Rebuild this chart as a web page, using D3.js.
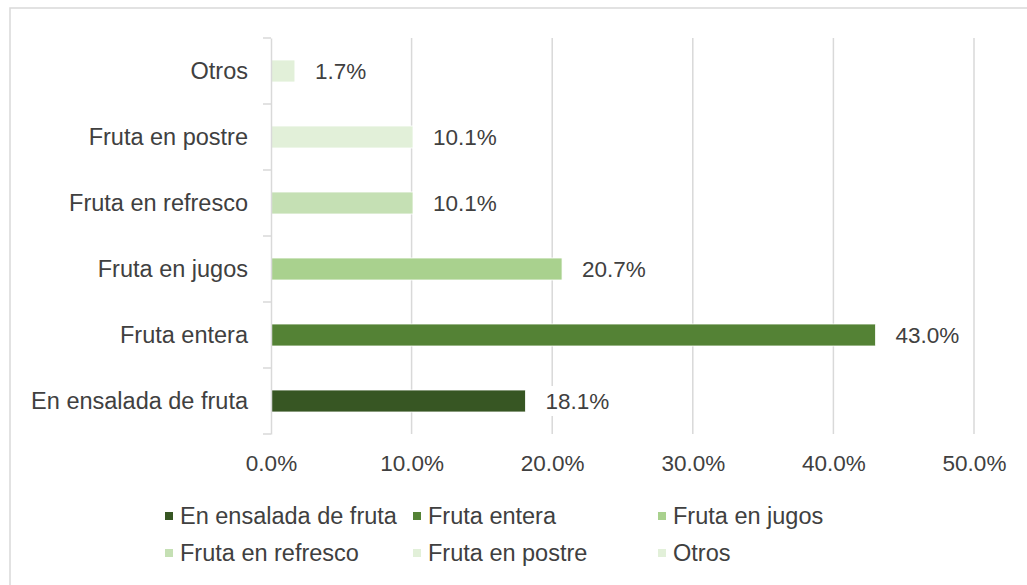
<!DOCTYPE html>
<html>
<head>
<meta charset="utf-8">
<script src="https://cdn.jsdelivr.net/npm/d3@7"></script>
<style>
  body { margin: 0; background: #fff; }
  svg { display: block; font-family: "Liberation Sans", Arial, sans-serif; }
</style>
</head>
<body>
<div id="chart"></div>
<script>
// data, top to bottom as drawn
var categories = ['Otros', 'Fruta en postre', 'Fruta en refresco', 'Fruta en jugos', 'Fruta entera', 'En ensalada de fruta'];
var values = [1.7, 10.1, 10.1, 20.7, 43.0, 18.1];
var colors = ['#e2f0d9', '#e2f0d9', '#c5e0b4', '#a9d18e', '#548235', '#375623'];
var tickValues = [0, 10, 20, 30, 40, 50];
var legendOrder = ['En ensalada de fruta', 'Fruta entera', 'Fruta en jugos', 'Fruta en refresco', 'Fruta en postre', 'Otros'];

var width = 1027, height = 585;
var margin = {left: 271, right: 53, top: 38, bottom: 151};
var fontSize = 22.5, catFontSize = 23.5;

var svg = d3.select('#chart').append('svg')
  .attr('width', width).attr('height', height);

// outer frame
svg.append('rect')
  .attr('x', 10).attr('y', 8)
  .attr('width', width + 20).attr('height', height + 20)
  .attr('fill', '#fff').attr('stroke', '#d9d9d9').attr('stroke-width', 1.5);

var x = d3.scaleLinear().domain([0, 50]).range([margin.left, width - margin.right]);
var y = d3.scaleBand().domain(categories)
  .range([margin.top, height - margin.bottom])
  .paddingInner(2 / 3).paddingOuter(1 / 3);

var step = y.step();
var plotBottom = height - margin.bottom;

// gridlines
svg.append('g').selectAll('line')
  .data(tickValues.slice(1))
  .enter().append('line')
  .attr('x1', function (d) { return x(d); })
  .attr('x2', function (d) { return x(d); })
  .attr('y1', margin.top).attr('y2', plotBottom)
  .attr('stroke', '#d9d9d9').attr('stroke-width', 1.5);

// value labels with white background (they break the gridlines)
var labels = svg.append('g').selectAll('g')
  .data(categories)
  .enter().append('g');

labels.append('rect')
  .attr('x', function (d, i) { return x(values[i]) + 8; })
  .attr('y', function (d) { return y(d) + y.bandwidth() / 2 - 15; })
  .attr('width', 82).attr('height', 30)
  .attr('fill', '#fff');

labels.append('text')
  .attr('x', function (d, i) { return x(values[i]) + 20; })
  .attr('y', function (d) { return y(d) + y.bandwidth() / 2; })
  .attr('dy', '0.35em')
  .attr('font-size', fontSize)
  .attr('fill', '#404040')
  .text(function (d, i) { return values[i].toFixed(1) + '%'; });

// bars
svg.append('g').selectAll('rect')
  .data(categories)
  .enter().append('rect')
  .attr('x', x(0))
  .attr('y', function (d) { return y(d); })
  .attr('width', function (d, i) { return x(values[i]) - x(0); })
  .attr('height', y.bandwidth())
  .attr('fill', function (d, i) { return colors[i]; })
  .attr('stroke', '#fff').attr('stroke-width', 0.8);

// category axis
var yAxis = d3.axisLeft(y).tickSize(0).tickPadding(23);
var gy = svg.append('g').attr('transform', 'translate(' + x(0) + ',0)').call(yAxis);
gy.select('.domain').attr('stroke', '#d9d9d9').attr('stroke-width', 1.5);
gy.selectAll('text').attr('font-size', catFontSize).attr('fill', '#404040')
  .attr('font-family', '"Liberation Sans", Arial, sans-serif');

// tick marks at band edges
var edges = d3.range(categories.length + 1).map(function (i) { return margin.top + i * step; });
svg.append('g').selectAll('line')
  .data(edges).enter().append('line')
  .attr('x1', x(0) - 8).attr('x2', x(0))
  .attr('y1', function (d) { return d; }).attr('y2', function (d) { return d; })
  .attr('stroke', '#d9d9d9').attr('stroke-width', 1.5);

// value axis (labels only)
var xAxis = d3.axisBottom(x).tickValues(tickValues).tickSize(0).tickPadding(21)
  .tickFormat(function (d) { return d.toFixed(1) + '%'; });
var gx = svg.append('g').attr('transform', 'translate(0,' + plotBottom + ')').call(xAxis);
gx.select('.domain').remove();
gx.selectAll('text').attr('font-size', fontSize).attr('fill', '#404040')
  .attr('font-family', '"Liberation Sans", Arial, sans-serif');

// legend
var legendX = [165, 413, 658];
var legendY = [516, 553];
var legend = svg.append('g').selectAll('g')
  .data(legendOrder)
  .enter().append('g')
  .attr('transform', function (d, i) {
    return 'translate(' + legendX[i % 3] + ',' + legendY[Math.floor(i / 3)] + ')';
  });

legend.append('rect')
  .attr('x', 0).attr('y', -4)
  .attr('width', 8).attr('height', 8)
  .attr('fill', function (d) { return colors[categories.indexOf(d)]; });

legend.append('text')
  .attr('x', 15).attr('dy', '0.35em')
  .attr('font-size', catFontSize).attr('fill', '#404040')
  .text(function (d) { return d; });
</script>
</body>
</html>
